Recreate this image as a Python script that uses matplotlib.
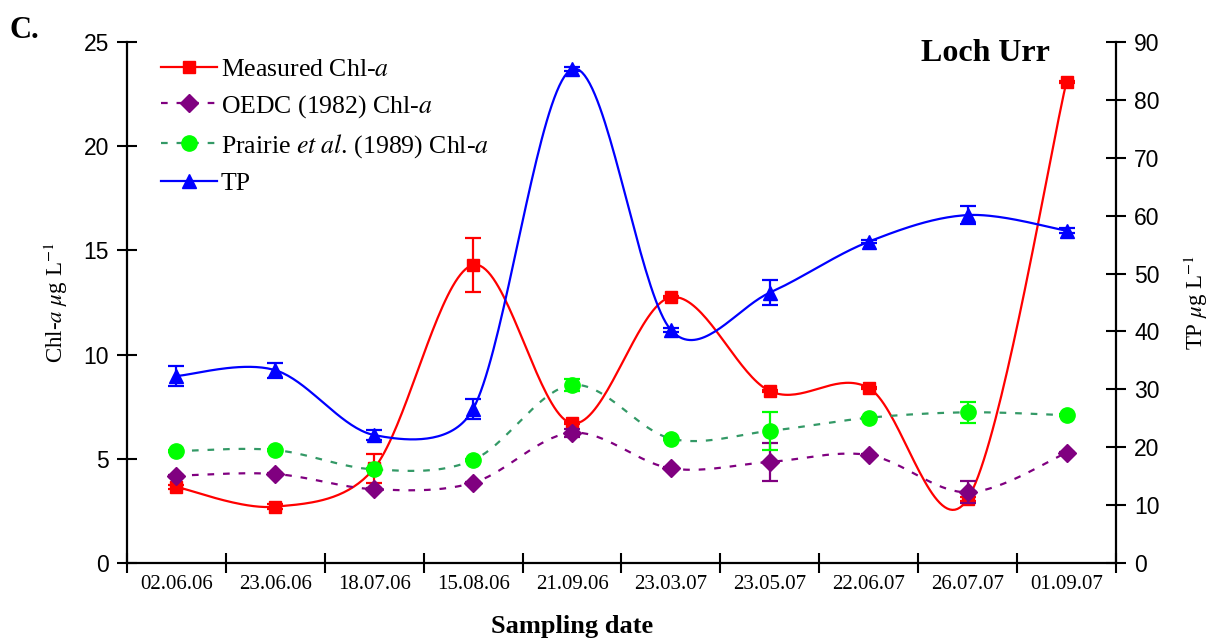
import numpy as np
import matplotlib
matplotlib.use("Agg")
import matplotlib.pyplot as plt
from matplotlib.lines import Line2D
from matplotlib.legend_handler import HandlerLine2D

plt.rcParams["mathtext.fontset"] = "stix"

dates = ["02.06.06", "23.06.06", "18.07.06", "15.08.06", "21.09.06",
         "23.03.07", "23.05.07", "22.06.07", "26.07.07", "01.09.07"]

# Chl-a series (left axis, µg/L)
measured = [3.65, 2.7, 4.55, 14.3, 6.7, 12.75, 8.25, 8.4, 3.07, 23.1]
measured_err = [0.1, 0.12, 0.7, 1.3, 0.05, 0.05, 0.05, 0.05, 0.1, 0.05]
oedc = [4.19, 4.27, 3.54, 3.85, 6.25, 4.54, 4.85, 5.18, 3.39, 5.29]
oedc_err = [0.05, 0.05, 0.05, 0.05, 0.2, 0.05, 0.9, 0.05, 0.53, 0.05]
prairie = [5.37, 5.42, 4.49, 4.94, 8.54, 5.97, 6.34, 6.97, 7.23, 7.09]
prairie_err = [0.05, 0.05, 0.05, 0.05, 0.3, 0.05, 0.92, 0.05, 0.5, 0.05]

# TP (right axis, µg/L)
tp = [32.3, 33.3, 22.1, 26.6, 85.3, 40.25, 46.7, 55.5, 60.1, 57.4]
tp_err = [1.7, 1.3, 0.9, 1.7, 0.3, 0.4, 2.1, 0.3, 1.5, 0.4]


def smooth(a, y, n=40):
    # bezier smoothing in screen space, tangents clipped on short segments
    x = np.arange(len(y), dtype=float)
    p = a.transData.transform(np.column_stack([x, np.asarray(y, dtype=float)]))
    pp = np.vstack([p[0], p, p[-1]])
    t = np.linspace(0, 1, n)[:, None]

    def ctrl(tan, seg):
        ln = np.hypot(*tan)
        lim = 0.41 * np.hypot(*seg)
        return tan / 6 if ln / 6 <= lim or ln == 0 else tan / ln * lim

    out = []
    for i in range(len(p) - 1):
        p0, p1, p2, p3 = pp[i], pp[i + 1], pp[i + 2], pp[i + 3]
        c1 = p1 + ctrl(p2 - p0, p2 - p1)
        c2 = p2 - ctrl(p3 - p1, p2 - p1)
        seg = (1 - t)**3 * p1 + 3 * (1 - t)**2 * t * c1 + 3 * (1 - t) * t**2 * c2 + t**3 * p2
        out.append(seg if i == 0 else seg[1:])
    s = a.transData.inverted().transform(np.vstack(out))
    return s[:, 0], s[:, 1]


class MarkerRight(HandlerLine2D):
    # legend marker sits right of the middle of the sample line
    def get_xdata(self, legend, xdescent, ydescent, width, height, fontsize):
        xdata, _ = super().get_xdata(legend, xdescent, ydescent, width, height, fontsize)
        return xdata, np.array([-xdescent + 0.7 * width])


fig = plt.figure(figsize=(12.15, 6.41), dpi=100)
ax = fig.add_axes([0.1045, 0.1217, 0.814, 0.8128])
ax2 = ax.twinx()

x = np.arange(len(dates))
ax.set_xlim(-0.5, len(dates) - 0.5)
ax2.set_xlim(-0.5, len(dates) - 0.5)
ax.set_ylim(0, 25)
ax2.set_ylim(0, 90)

dash = (0, (3, 4))
series = [
    (ax, measured, measured_err, "red", "red", "-", "s", 9),
    (ax, oedc, oedc_err, "#800080", "#800080", dash, "D", 9),
    (ax, prairie, prairie_err, "#339966", "#00FF00", dash, "o", 11),
    (ax2, tp, tp_err, "blue", "blue", "-", "^", 10),
]
handles = []
for a, y, err, lc, mc, ls, mk, ms in series:
    sx, sy = smooth(a, y)
    a.plot(sx, sy, color=lc, ls=ls, lw=1.6)
    a.errorbar(x, y, yerr=err, fmt="none", ecolor=mc, elinewidth=1.6,
               capsize=6, capthick=1.6)
    a.plot(x, y, ls="none", marker=mk, ms=ms, color=mc, mec=mc)
    handles.append(Line2D([], [], color=lc, ls=ls, lw=1.6, marker=mk,
                          ms=ms, mfc=mc, mec=mc))

ax.set_yticks(range(0, 26, 5))
ax2.set_yticks(range(0, 91, 10))

# category boundaries carry the ticks, labels sit in between
ax.set_xticks(np.arange(-0.5, len(dates), 1.0))
ax.set_xticklabels([])
ax.set_xticks(x, minor=True)
ax.set_xticklabels(dates, minor=True, family="Liberation Serif", fontsize=15)
ax.tick_params(axis="x", which="major", direction="inout", length=14, width=1.5)
ax.tick_params(axis="x", which="minor", length=0, pad=9)

for a in (ax, ax2):
    a.spines["top"].set_visible(False)
    for s in a.spines.values():
        s.set_linewidth(1.6)
ax.spines["right"].set_visible(False)
ax2.spines["left"].set_visible(False)
ax2.spines["bottom"].set_visible(False)
ax.tick_params(axis="y", direction="inout", length=14, width=1.5, pad=6,
               labelsize=16.5)
ax2.tick_params(axis="y", direction="inout", length=14, width=1.5, pad=6,
                labelsize=16.5)
for lab in ax.get_yticklabels() + ax2.get_yticklabels():
    lab.set_family("Liberation Sans")

ax.set_ylabel(r"Chl-$a$ $\mu$g L$^{\mathrm{-1}}$", family="Liberation Serif",
              fontsize=16.5, labelpad=10)
ax2.set_ylabel(r"TP $\mu$g L$^{\mathrm{-1}}$", family="Liberation Serif",
               fontsize=16.5, labelpad=16)

labels = [r"Measured Chl-$a$", r"OEDC (1982) Chl-$a$",
          r"Prairie $et\ al$. (1989) Chl-$a$", "TP"]
leg = ax2.legend(handles, labels, loc="upper left", bbox_to_anchor=(0.034, 0.97),
                 frameon=False, handlelength=2.2, handletextpad=0.15,
                 labelspacing=0.475, borderpad=0, borderaxespad=0,
                 handler_map={Line2D: MarkerRight(numpoints=1)},
                 prop={"family": "Liberation Serif", "size": 18.5})

fig.text(0.008, 0.952, "C.", family="Liberation Serif", weight="bold",
         fontsize=22, va="center")
fig.text(0.758, 0.917, "Loch Urr", family="Liberation Serif", weight="bold",
         fontsize=23, va="center")
fig.text(0.471, 0.022, "Sampling date", family="Liberation Serif",
         weight="bold", fontsize=19, ha="center", va="center")

fig.savefig("out.png", dpi=100)
